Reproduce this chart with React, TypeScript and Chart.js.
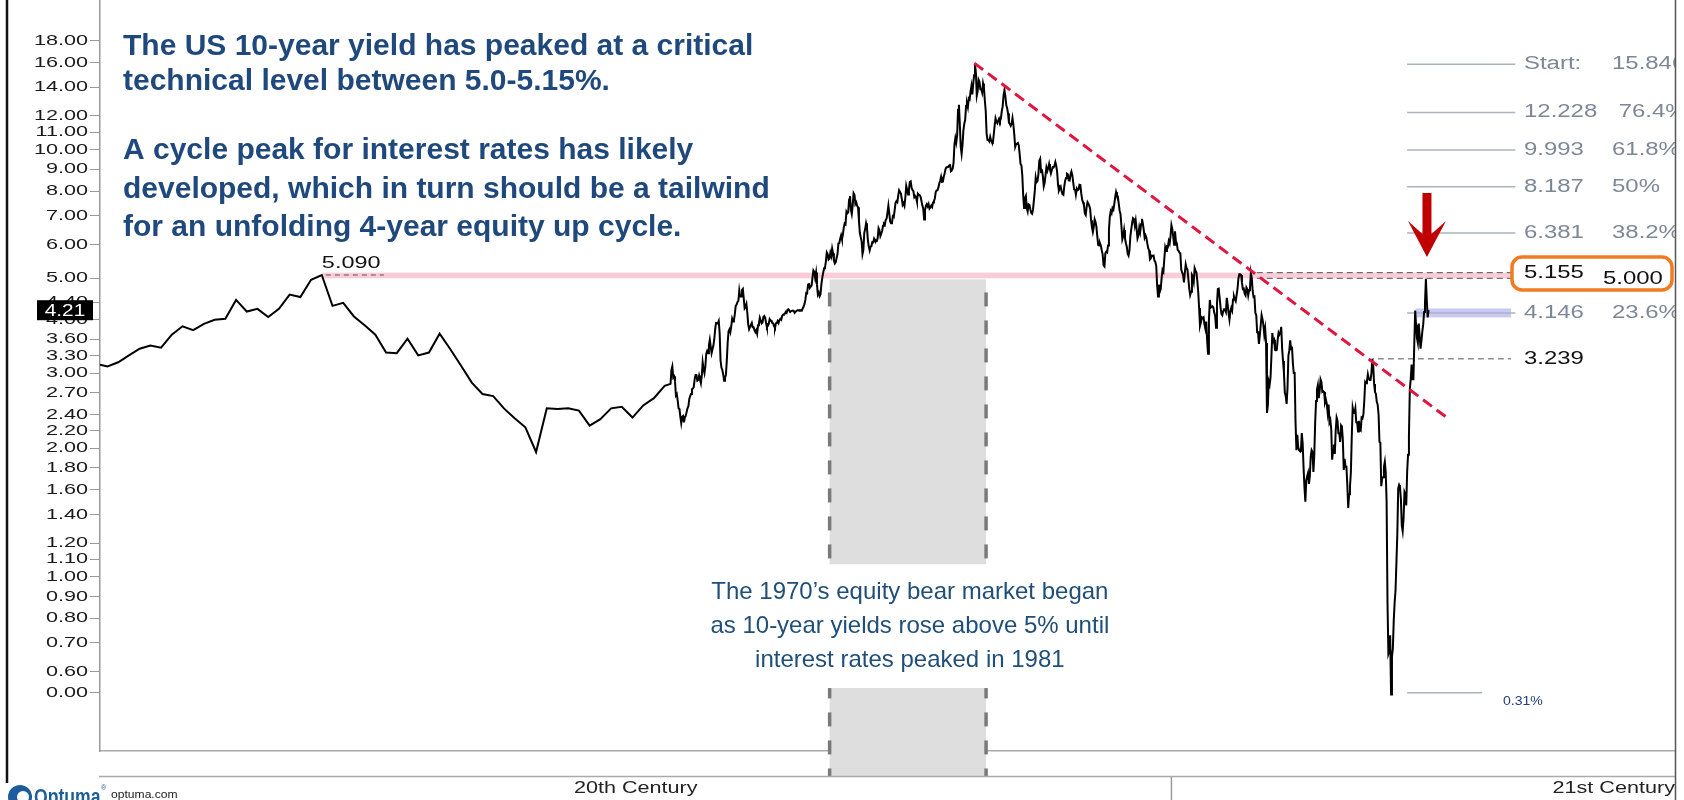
import React, { useEffect, useRef } from 'react';
import { Chart, registerables, LogarithmicScale } from 'chart.js';

Chart.register(...registerables);

// ---------------- DATA ----------------
// Y axis ticks (top to bottom) and their labels
const yTickValues = [18, 16, 14, 12, 11, 10, 9, 8, 7, 6, 5, 4.4, 4, 3.6, 3.3, 3, 2.7, 2.4, 2.2, 2, 1.8, 1.6, 1.4, 1.2, 1.1, 1, 0.9, 0.8, 0.7, 0.6, 0.535];
const yTickLabels = ['18.00', '16.00', '14.00', '12.00', '11.00', '10.00', '9.00', '8.00', '7.00', '6.00', '5.00', '4.40', '4.00', '3.60', '3.30', '3.00', '2.70', '2.40', '2.20', '2.00', '1.80', '1.60', '1.40', '1.20', '1.10', '1.00', '0.90', '0.80', '0.70', '0.60', '0.00'];

// Annual yields 1900-1952 (first value = start of 1900)
const firstYield = 3.14;
const annualYields = [
  3.11, 3.18, 3.30, 3.42, 3.48, 3.44, 3.69, 3.86, 3.78, 3.91,
  4.00, 4.02, 4.45, 4.18, 4.24, 4.06, 4.24, 4.58, 4.52, 4.96,
  5.09, 4.31, 4.38, 4.07, 3.88, 3.69, 3.35, 3.34, 3.61, 3.30,
  3.35, 3.71, 3.41, 3.12, 2.85, 2.68, 2.65, 2.48, 2.35, 2.24,
  1.96, 2.48, 2.47, 2.48, 2.45, 2.26, 2.34, 2.48, 2.50, 2.36,
  2.52, 2.62, 2.80,
];

// Monthly yields from April 1953
const monthly1950s = [
  2.83, 3.05, 3.11, 2.93, 2.95, 2.87, 2.66, 2.68, 2.59,
  2.48, 2.47, 2.37, 2.29, 2.37, 2.38, 2.30, 2.36, 2.38, 2.43, 2.48, 2.51,
  2.61, 2.65, 2.68, 2.75, 2.76, 2.78, 2.90, 2.97, 2.97, 2.88, 2.89, 2.96,
  2.90, 2.84, 2.96, 3.18, 3.07, 3.00, 3.11, 3.33, 3.38, 3.34, 3.49, 3.59,
  3.46, 3.34, 3.41, 3.48, 3.60, 3.80, 3.93, 3.93, 3.92, 3.97, 3.72, 3.21,
  3.09, 3.05, 2.98, 2.88, 2.92, 2.97, 3.20, 3.54, 3.76, 3.80, 3.74, 3.86,
  4.02, 3.96, 3.99, 4.12, 4.31, 4.34, 4.40, 4.43, 4.68, 4.53, 4.53, 4.69,
];
const monthly1960s = [
  4.72, 4.49, 4.25, 4.28, 4.35, 4.15, 3.90, 3.80, 3.80, 3.89, 3.93, 3.84,
  3.84, 3.78, 3.74, 3.78, 3.71, 3.88, 3.92, 4.04, 3.98, 3.92, 3.94, 4.06,
  4.08, 4.04, 3.93, 3.84, 3.87, 3.91, 4.01, 3.98, 3.98, 3.93, 3.92, 3.86,
  3.83, 3.92, 3.93, 3.97, 3.93, 3.99, 4.02, 4.00, 4.08, 4.11, 4.12, 4.13,
  4.17, 4.15, 4.22, 4.23, 4.20, 4.17, 4.19, 4.19, 4.20, 4.19, 4.15, 4.18,
  4.19, 4.21, 4.21, 4.20, 4.21, 4.21, 4.20, 4.25, 4.29, 4.35, 4.45, 4.62,
  4.61, 4.83, 4.87, 4.75, 4.78, 4.81, 5.02, 5.22, 5.18, 5.01, 5.16, 4.84,
  4.58, 4.63, 4.54, 4.59, 4.85, 5.02, 5.16, 5.28, 5.30, 5.48, 5.75, 5.70,
  5.53, 5.56, 5.74, 5.64, 5.87, 5.72, 5.50, 5.42, 5.46, 5.58, 5.70, 6.03,
  6.04, 6.19, 6.30, 6.17, 6.32, 6.57, 6.72, 6.69, 7.16, 7.10, 7.14, 7.65,
];
const monthly1970s = [
  7.79, 7.24, 7.07, 7.39, 7.91, 7.84, 7.46, 7.53, 7.39, 7.33, 6.84, 6.39,
  6.24, 6.11, 5.70, 5.83, 6.39, 6.52, 6.73, 6.58, 6.14, 5.93, 5.81, 5.93,
  5.95, 6.08, 6.07, 6.19, 6.13, 6.11, 6.11, 6.21, 6.55, 6.48, 6.28, 6.36,
  6.46, 6.64, 6.71, 6.67, 6.85, 6.90, 7.13, 7.40, 7.09, 6.79, 6.73, 6.74,
  6.99, 6.96, 7.21, 7.51, 7.58, 7.54, 7.81, 8.04, 8.04, 7.90, 7.68, 7.43,
  7.50, 7.39, 7.73, 8.23, 8.06, 7.86, 8.06, 8.40, 8.43, 8.14, 8.05, 8.00,
  7.74, 7.79, 7.73, 7.56, 7.90, 7.86, 7.83, 7.77, 7.59, 7.41, 7.29, 6.87,
  7.21, 7.39, 7.46, 7.37, 7.46, 7.28, 7.33, 7.40, 7.34, 7.52, 7.58, 7.69,
  7.96, 8.03, 8.04, 8.15, 8.35, 8.46, 8.64, 8.41, 8.42, 8.64, 8.81, 9.01,
  9.10, 9.10, 9.12, 9.18, 9.25, 8.91, 8.95, 9.03, 9.33, 10.30, 10.65, 10.39,
];
const monthly1980s = [
  10.80, 12.41, 12.75, 11.47, 10.18, 9.78, 10.25, 11.10, 11.51, 11.75, 12.68, 12.84,
  12.57, 13.19, 13.12, 13.68, 14.10, 13.47, 14.28, 14.94, 15.84, 15.15, 13.39, 13.72,
  14.59, 14.43, 13.86, 13.87, 13.62, 14.30, 13.95, 13.06, 12.34, 10.91, 10.55, 10.54,
  10.46, 10.72, 10.51, 10.40, 10.38, 10.85, 11.38, 11.85, 11.65, 11.54, 11.69, 11.83,
  11.67, 11.84, 12.32, 12.63, 13.41, 13.80, 13.36, 12.72, 12.52, 12.16, 11.57, 11.50,
  11.38, 11.51, 11.86, 11.43, 10.85, 10.16, 10.31, 10.33, 10.37, 10.24, 9.78, 9.26,
  9.19, 8.70, 7.78, 7.30, 7.71, 7.80, 7.30, 7.17, 7.45, 7.43, 7.25, 7.11,
  7.08, 7.25, 7.25, 8.02, 8.61, 8.40, 8.45, 8.76, 9.42, 9.52, 8.86, 8.99,
  8.67, 8.21, 8.37, 8.72, 9.09, 8.92, 9.06, 9.26, 8.98, 8.80, 8.96, 9.11,
  9.09, 9.17, 9.36, 9.18, 8.86, 8.28, 8.02, 8.11, 8.19, 8.01, 7.87, 7.84,
];
const monthly1990s = [
  8.21, 8.47, 8.59, 8.79, 8.76, 8.48, 8.47, 8.75, 8.89, 8.72, 8.39, 8.08,
  8.09, 7.85, 8.11, 8.04, 8.07, 8.28, 8.27, 7.90, 7.65, 7.53, 7.42, 7.09,
  7.03, 7.34, 7.54, 7.48, 7.39, 7.26, 6.84, 6.59, 6.42, 6.59, 6.87, 6.77,
  6.60, 6.26, 5.98, 5.97, 6.04, 5.96, 5.81, 5.68, 5.36, 5.33, 5.72, 5.77,
  5.75, 5.97, 6.48, 6.97, 7.18, 7.10, 7.30, 7.24, 7.46, 7.74, 7.96, 7.81,
  7.78, 7.47, 7.20, 7.06, 6.63, 6.17, 6.28, 6.49, 6.20, 6.04, 5.93, 5.71,
  5.65, 5.81, 6.27, 6.51, 6.74, 6.91, 6.87, 6.64, 6.83, 6.53, 6.20, 6.30,
  6.58, 6.42, 6.69, 6.89, 6.71, 6.49, 6.22, 6.30, 6.21, 6.03, 5.88, 5.81,
  5.54, 5.57, 5.65, 5.64, 5.65, 5.50, 5.46, 5.34, 4.81, 4.53, 4.83, 4.65,
  4.72, 5.00, 5.23, 5.18, 5.54, 5.90, 5.79, 5.94, 5.92, 6.11, 6.03, 6.28,
];
const monthly2000s = [
  6.66, 6.52, 6.26, 5.99, 6.44, 6.10, 6.05, 5.83, 5.80, 5.74, 5.72, 5.24,
  5.16, 5.10, 4.89, 5.14, 5.39, 5.28, 5.24, 4.97, 4.73, 4.57, 4.65, 5.09,
  5.04, 4.91, 5.28, 5.21, 5.16, 4.93, 4.65, 4.26, 3.87, 3.94, 4.05, 4.03,
  4.05, 3.90, 3.81, 3.96, 3.57, 3.33, 3.98, 4.45, 4.27, 4.29, 4.30, 4.27,
  4.15, 4.08, 3.83, 4.35, 4.72, 4.73, 4.50, 4.28, 4.13, 4.10, 4.19, 4.23,
  4.22, 4.17, 4.50, 4.34, 4.14, 4.00, 4.18, 4.26, 4.20, 4.46, 4.54, 4.47,
  4.42, 4.57, 4.72, 4.99, 5.11, 5.11, 5.09, 4.88, 4.72, 4.73, 4.60, 4.56,
  4.76, 4.72, 4.56, 4.69, 4.75, 5.15, 5.00, 4.67, 4.52, 4.53, 4.15, 4.10,
  3.74, 3.74, 3.51, 3.68, 3.88, 4.10, 4.01, 3.89, 3.69, 3.81, 3.53, 2.42,
  2.52, 2.87, 2.82, 2.93, 3.29, 3.72, 3.56, 3.59, 3.40, 3.39, 3.40, 3.59,
];
const monthly2010s = [
  3.73, 3.69, 3.73, 3.85, 3.42, 3.20, 3.01, 2.70, 2.65, 2.54, 2.76, 3.29,
  3.39, 3.58, 3.41, 3.46, 3.17, 3.00, 3.00, 2.30, 1.98, 2.15, 2.01, 1.98,
  1.97, 1.97, 2.17, 2.05, 1.80, 1.62, 1.50, 1.68, 1.72, 1.75, 1.65, 1.72,
  1.91, 1.98, 1.96, 1.76, 1.93, 2.30, 2.58, 2.74, 2.81, 2.62, 2.72, 2.90,
  2.86, 2.71, 2.72, 2.71, 2.56, 2.60, 2.54, 2.42, 2.53, 2.30, 2.33, 2.21,
  1.88, 1.98, 2.04, 1.94, 2.20, 2.36, 2.32, 2.17, 2.17, 2.07, 2.26, 2.24,
  2.09, 1.78, 1.89, 1.81, 1.81, 1.64, 1.45, 1.56, 1.63, 1.76, 2.14, 2.49,
  2.43, 2.42, 2.48, 2.30, 2.30, 2.19, 2.32, 2.21, 2.20, 2.36, 2.35, 2.40,
  2.58, 2.86, 2.84, 2.87, 2.98, 2.91, 2.89, 2.89, 3.00, 3.24, 3.12, 2.83,
  2.71, 2.68, 2.57, 2.53, 2.40, 2.07, 2.06, 1.63, 1.70, 1.71, 1.81, 1.86,
];
const monthly2020s = [
  1.76, 1.50, 0.87, 0.66, 0.67, 0.73, 0.53, 0.65, 0.68, 0.79, 0.87, 0.93,
  1.08, 1.26, 1.61, 1.64, 1.62, 1.52, 1.32, 1.28, 1.37, 1.58, 1.56, 1.47,
  1.76, 1.93, 2.13, 2.75, 2.90, 3.14, 2.90, 2.90, 3.52, 4.20, 3.89, 3.62,
  3.53, 3.92, 3.66, 3.42, 3.57, 3.75, 3.90, 4.17, 4.38, 4.99, 4.45, 4.05,
  4.21,
];
const lastYield = 4.21;

// Trend line from the 1981 peak
const trendYears = [1981.6, 2026.0];
const trendValues = [15.95, 2.33];

// Fibonacci retracement levels (1981 high -> 2020 low)
const fibValues = [15.846, 12.228, 9.993, 8.187, 6.381, 4.146];
const fibLeftLabels = ['Start:', '12.228', '9.993', '8.187', '6.381', '4.146'];
const fibRightLabels = ['15.846', ' 76.4%', '61.8%', '50%', '38.2%', '23.6%'];
const fibLow = 0.535;
const fibLowLabel = '0.31%';

// Levels
const peak1920 = 5.09;
const resistanceHigh = 5.155;
const resistanceLow = 5.0;
const level2018 = 3.239;
const blueBand = [4.05, 4.25];
const bearMarketYears = [1968.1, 1982.7];

const titleLines = [
  'The US 10-year yield has peaked at a critical',
  'technical level between 5.0-5.15%.',
  'A cycle peak for interest rates has likely',
  'developed, which in turn should be a tailwind',
  'for an unfolding 4-year equity up cycle.',
];
const noteLines = [
  'The 1970\u2019s equity bear market began',
  'as 10-year yields rose above 5% until',
  'interest rates peaked in 1981',
];
const centuryLabels = ['20th Century', '21st Century'];

// ---------------- SCALE ----------------
const TICK_STRETCH = 1.44;
class StretchLogScale extends LogarithmicScale {
  static id = 'stretchLog';
  static defaults = LogarithmicScale.defaults;
  drawLabels(chartArea: any) {
    const ctx = (this as any).ctx;
    const o: any = (this as any).options;
    const ax = (this as any).right - o.grid.tickLength - o.ticks.padding;
    ctx.save();
    ctx.translate(ax, 0);
    ctx.scale(TICK_STRETCH, 1);
    ctx.translate(-ax, 0);
    super.drawLabels(chartArea);
    ctx.restore();
  }
}
Chart.register(StretchLogScale as any);

const Y_MIN = 0.391;
const Y_MAX = 22.42;

function txt(ctx: any, s: string, x: number, y: number, font: string, color: string, align: string = 'left', sx = 1) {
  ctx.save();
  ctx.font = font;
  ctx.fillStyle = color;
  ctx.textAlign = align;
  ctx.textBaseline = 'middle';
  ctx.translate(x, y);
  ctx.scale(sx, 1);
  ctx.fillText(s, 0, 0);
  ctx.restore();
}

function hline(ctx: any, x0: number, x1: number, y: number, color: string, w: number, dash: number[] = []) {
  ctx.save();
  ctx.strokeStyle = color;
  ctx.lineWidth = w;
  ctx.setLineDash(dash);
  ctx.beginPath();
  ctx.moveTo(x0, y);
  ctx.lineTo(x1, y);
  ctx.stroke();
  ctx.restore();
}

const overlay = {
  id: 'overlay',
  beforeDatasetsDraw(chart: any) {
    const { ctx, chartArea: ca } = chart;
    const X = (v: number) => chart.scales.x.getPixelForValue(v);
    const Y = (v: number) => chart.scales.y.getPixelForValue(v);
    ctx.save();
    // 1970s bear market box
    const bx0 = X(bearMarketYears[0]);
    const bx1 = X(bearMarketYears[1]);
    const by0 = Y(4.97);
    const by1 = ca.bottom + 25;
    ctx.fillStyle = '#dedede';
    ctx.fillRect(bx0, by0, bx1 - bx0, by1 - by0);
    ctx.strokeStyle = '#7a7a7a';
    ctx.lineWidth = 3.5;
    ctx.setLineDash([14, 14]);
    ctx.lineDashOffset = 15;
    for (const bx of [bx0, bx1]) {
      ctx.beginPath();
      ctx.moveTo(bx, by0);
      ctx.lineTo(bx, by1);
      ctx.stroke();
    }
    ctx.setLineDash([]);
    ctx.fillStyle = '#ffffff';
    const gy0 = Y(1.07);
    const gy1 = Y(0.549);
    ctx.fillRect(bx0 - 4, gy0, bx1 - bx0 + 8, gy1 - gy0);

    // pink resistance band
    const px0 = X(1920.8);
    const px1 = X(2031.7);
    ctx.fillStyle = '#f9ccd6';
    ctx.fillRect(px0, Y(resistanceHigh), px1 - px0, Y(resistanceLow) - Y(resistanceHigh));
    // blue band
    const qx0 = X(2022.8);
    ctx.fillStyle = '#c9c9f4';
    ctx.fillRect(qx0, Y(blueBand[1]), px1 - qx0, Y(blueBand[0]) - Y(blueBand[1]));

    // fib lines
    for (const v of fibValues) hline(ctx, X(2022.0), X(2032.1), Y(v), '#a9b3bf', 1.5);
    hline(ctx, X(2022.0), X(2029.0), Y(fibLow), '#a9b3bf', 1.5);

    // dashed levels
    hline(ctx, X(1920.8), X(1926.5), Y(peak1920), '#555', 1, [5, 4]);
    hline(ctx, X(2007.5), px1, Y(resistanceHigh), '#555', 1, [6, 4]);
    hline(ctx, X(2007.5), px1, Y(resistanceLow), '#555', 1, [6, 4]);
    hline(ctx, X(2018.8), px1, Y(level2018), '#555', 1, [6, 4]);
    ctx.restore();
  },
  afterDraw(chart: any) {
    const { ctx, chartArea: ca } = chart;
    const X = (v: number) => chart.scales.x.getPixelForValue(v);
    const Y = (v: number) => chart.scales.y.getPixelForValue(v);
    const OPT = 'Liberation Sans';

    // Title
    const titleY = [47, 82, 151, 190, 228];
    titleLines.forEach((s, i) => txt(ctx, s, 123, titleY[i], `bold 30px "${OPT}"`, '#1f497d', 'left', 1.0));

    // note in bear-market box
    const cx = (X(bearMarketYears[0]) + X(bearMarketYears[1])) / 2 + 2;
    const noteY = [592, 626, 660];
    noteLines.forEach((s, i) => txt(ctx, s, cx, noteY[i], `24px "${OPT}"`, '#1f4e79', 'center', 1));

    // 5.090 label
    txt(ctx, peak1920.toFixed(3), X(1920.8) - 1, Y(peak1920) - 12, `17px "${OPT}"`, '#111', 'left', 1.38);

    // right-side labels (clipped at the plot's right edge)
    ctx.save();
    ctx.beginPath();
    ctx.rect(ca.left, 0, ca.right - ca.left, chart.height);
    ctx.clip();
    fibValues.forEach((v, i) => {
      txt(ctx, fibLeftLabels[i], 1524, Y(v), `18px "${OPT}"`, '#7d8896', 'left', 1.33);
      txt(ctx, fibRightLabels[i], 1612, Y(v), `18px "${OPT}"`, '#7d8896', 'left', 1.33);
    });
    txt(ctx, resistanceHigh.toFixed(3), 1524, Y(resistanceHigh), `18px "${OPT}"`, '#111', 'left', 1.33);
    txt(ctx, resistanceLow.toFixed(3), 1603, Y(resistanceLow) + 1, `18px "${OPT}"`, '#111', 'left', 1.33);
    txt(ctx, level2018.toFixed(3), 1524, Y(level2018), `18px "${OPT}"`, '#111', 'left', 1.33);
    txt(ctx, fibLowLabel, 1503, Y(fibLow) + 9, `13px "${OPT}"`, '#1f3f7f', 'left', 1.08);
    ctx.restore();

    // orange highlight box
    ctx.save();
    ctx.strokeStyle = '#f07b22';
    ctx.lineWidth = 3.5;
    ctx.beginPath();
    (ctx as any).roundRect(1512, 257, 160, 33, 10);
    ctx.stroke();
    ctx.restore();

    // red arrow pointing to the 2023 peak
    const ax = X(2023.85);
    ctx.save();
    ctx.fillStyle = '#c00000';
    ctx.beginPath();
    ctx.moveTo(ax - 4.5, 193);
    ctx.lineTo(ax + 4.5, 193);
    ctx.lineTo(ax + 4.5, 234);
    ctx.lineTo(ax + 19, 221);
    ctx.lineTo(ax, 257);
    ctx.lineTo(ax - 19, 221);
    ctx.lineTo(ax - 4.5, 234);
    ctx.closePath();
    ctx.fill();
    ctx.restore();

    // current value tag
    const ty = Y(lastYield);
    ctx.fillStyle = '#000';
    ctx.fillRect(37, ty - 10, 56, 20);
    txt(ctx, lastYield.toFixed(2), 65, ty + 1, `16px "${OPT}"`, '#fff', 'center', 1.3);

    // bottom band
    hline(ctx, ca.left - 1, ca.right, ca.bottom + 25.5, '#aaaaaa', 1.5);
    ctx.save();
    ctx.strokeStyle = '#999';
    ctx.lineWidth = 1.5;
    ctx.beginPath();
    ctx.moveTo(X(2000), ca.bottom + 26);
    ctx.lineTo(X(2000), chart.height);
    ctx.stroke();
    ctx.restore();
    txt(ctx, centuryLabels[0], X(1950), 789, `16px "${OPT}"`, '#222', 'center', 1.35);
    txt(ctx, centuryLabels[1], ca.right, 789, `16px "${OPT}"`, '#222', 'right', 1.35);

    // frame lines
    ctx.save();
    ctx.strokeStyle = '#111';
    ctx.lineWidth = 2.5;
    ctx.beginPath();
    ctx.moveTo(7, 0);
    ctx.lineTo(7, 783);
    ctx.stroke();
    ctx.strokeStyle = '#555';
    ctx.lineWidth = 1.5;
    ctx.beginPath();
    ctx.moveTo(ca.right + 0.5, 0);
    ctx.lineTo(ca.right + 0.5, chart.height);
    ctx.stroke();
    ctx.restore();

    // Optuma logo
    ctx.save();
    ctx.fillStyle = '#1e5d9c';
    ctx.beginPath();
    ctx.arc(20, 797, 12, 0, Math.PI * 2);
    ctx.fill();
    ctx.fillStyle = '#fff';
    ctx.beginPath();
    ctx.arc(23, 797, 6, 0, Math.PI * 2);
    ctx.fill();
    ctx.restore();
    txt(ctx, 'Optuma', 34, 798, `bold 22px "${OPT}"`, '#1e5d9c', 'left', 0.8);
    txt(ctx, '\u00ae', 101, 788, `7px "${OPT}"`, '#1e5d9c', 'left', 1);
    txt(ctx, 'optuma.com', 111, 795, `11px "${OPT}"`, '#222', 'left', 1.1);
  },
};

export default function App() {
  const ref = useRef<HTMLCanvasElement | null>(null);
  useEffect(() => {
    const canvas = ref.current;
    if (!canvas) return;
    const points: { x: number; y: number }[] = [];
    points.push({ x: 1900, y: firstYield });
    annualYields.forEach((v, i) => points.push({ x: 1900.7 + i, y: v }));
    let t = 1953 + 3 / 12;
    for (const block of [monthly1950s, monthly1960s, monthly1970s, monthly1980s, monthly1990s, monthly2000s, monthly2010s, monthly2020s]) {
      for (const v of block) {
        points.push({ x: t, y: v });
        t += 1 / 12;
      }
    }
    const trend = trendYears.map((x, i) => ({ x, y: trendValues[i] }));
    const chart = new Chart(canvas, {
      type: 'line',
      data: {
        datasets: [
          { data: trend, borderColor: '#e0163f', borderWidth: 3, borderDash: [11, 6], pointRadius: 0, fill: false, order: 0 } as any,
          { data: points, borderColor: '#000', borderWidth: 2, pointRadius: 0, fill: false, order: 1 } as any,
        ],
      },
      options: {
        responsive: false,
        animation: false,
        devicePixelRatio: 1,
        layout: { padding: { left: 0, right: 9, top: 0, bottom: 0 } },
        plugins: { legend: { display: false }, tooltip: { enabled: false } },
        scales: {
          x: {
            type: 'linear',
            min: 1900,
            max: 2047,
            bounds: 'data',
            ticks: { display: false },
            grid: { display: false, drawTicks: false },
            border: { display: true, color: '#aaaaaa', width: 1.5 },
            afterFit: (s: any) => { s.height = 49; s.paddingLeft = 0; s.paddingRight = 0; },
          },
          y: {
            type: 'stretchLog' as any,
            min: Y_MIN,
            max: Y_MAX,
            bounds: 'data',
            afterBuildTicks: (s: any) => { s.ticks = yTickValues.slice().reverse().map((v) => ({ value: v })); },
            ticks: {
              autoSkip: false,
              padding: 2,
              color: '#1a1a1a',
              font: { family: 'Liberation Sans', size: 15 },
              callback: (v: any) => { const i = yTickValues.indexOf(Number(v)); return i >= 0 ? yTickLabels[i] : ''; },
            },
            grid: { drawOnChartArea: false, tickLength: 10, color: '#999' },
            border: { color: '#999', width: 1.5 },
            afterFit: (s: any) => { s.width = 100; s.paddingTop = 0; s.paddingBottom = 0; },
          } as any,
        },
      },
      plugins: [overlay],
    });
    return () => chart.destroy();
  }, []);
  return (
    <div style={{ position: 'absolute', left: 0, top: 0, width: 1684, height: 800, background: '#fff' }}>
      <canvas ref={ref} width={1684} height={800} style={{ display: 'block' }} />
    </div>
  );
}
